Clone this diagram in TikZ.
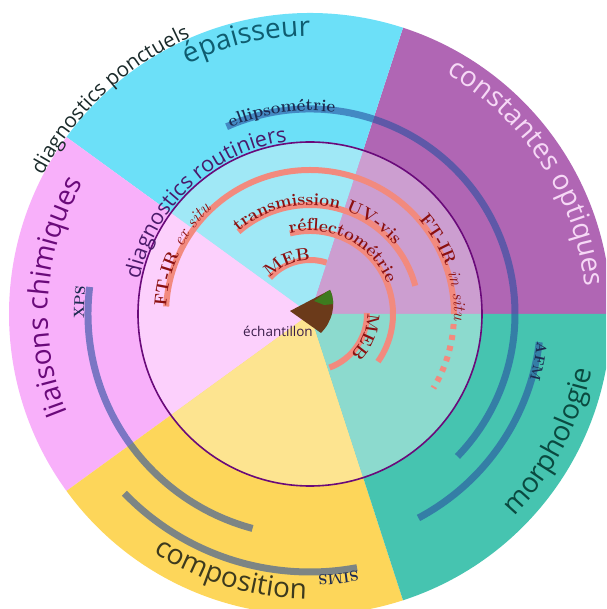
\documentclass[tikz,border=0pt]{standalone}
\usepackage{fontspec}
\usetikzlibrary{decorations.text}
\newfontfamily\osans{Open Sans}
\definecolor{cyanO}{HTML}{6CE0F8}
\definecolor{cyanI}{HTML}{A0E8F6}
\definecolor{purO}{HTML}{B066B4}
\definecolor{purI}{HTML}{CC9ED0}
\definecolor{pinkO}{HTML}{F8B0FA}
\definecolor{pinkI}{HTML}{FCD0FC}
\definecolor{yelO}{HTML}{FDD65A}
\definecolor{yelI}{HTML}{FDE490}
\definecolor{tealO}{HTML}{46C4B0}
\definecolor{tealI}{HTML}{8CDACE}
\definecolor{ringc}{HTML}{6A0A7A}
\definecolor{salmonc}{HTML}{F28A7E}
\definecolor{redtxt}{HTML}{8B1010}
\definecolor{bluearc}{HTML}{2850A0}
\definecolor{bluetxt}{HTML}{1C2A50}
\definecolor{epaic}{HTML}{0F5C70}
\definecolor{constc}{HTML}{F6D8F6}
\definecolor{morphc}{HTML}{0A4A40}
\definecolor{compc}{HTML}{3D3A1E}
\definecolor{liaic}{HTML}{6A0A7A}
\definecolor{ponctc}{HTML}{1A2A2A}
\definecolor{routc}{HTML}{4A1A6A}
\definecolor{samplec}{HTML}{6B3A1A}
\definecolor{greenc}{HTML}{3D7A1E}
\definecolor{echc}{HTML}{3A1D4A}
\newcommand\mysector[4]{\fill[#4] (0,0) -- (#1:#3) arc[start angle=#1,end angle=#2,radius=#3] -- cycle;}
\newcommand\outf[1]{\osans\fontsize{28}{30}\selectfont\color{#1}}
\newcommand\diagf[1]{\osans\fontsize{20.5}{22}\selectfont\color{#1}}
\newcommand\routf[1]{\osans\fontsize{21.5}{23}\selectfont\color{#1}}
\newcommand\redf{\bfseries\fontsize{17.5}{19}\selectfont\color{redtxt}}
\newcommand\redi{\mdseries\itshape\fontsize{17.5}{19}\selectfont\color{redtxt}}
\newcommand\bluef{\bfseries\fontsize{17}{19}\selectfont\color{bluetxt}}
\newcommand\bluefs{\bfseries\fontsize{14.5}{16}\selectfont\color{bluetxt}}
\tikzset{
  centerlbl/.style={decorate,decoration={text along path,text align=center,text={#1}}},
  startlbl/.style={decorate,decoration={text along path,text align=left,text={#1}}},
  endlbl/.style={decorate,decoration={text along path,text align=right,text={#1}}},
  redband/.style={draw=salmonc,line width=6pt},
  blueband/.style={draw=bluearc,draw opacity=0.6,line width=7pt},
}
\begin{document}
\begin{tikzpicture}[x=1pt,y=1pt]
\useasboundingbox (-310,-295) rectangle (296,314);
\clip (-310,-295) rectangle (296,314);
% outer sectors
\mysector{0}{72}{301}{purO}
\mysector{72}{144}{301}{cyanO}
\mysector{144}{216}{301}{pinkO}
\mysector{216}{288}{301}{yelO}
\mysector{288}{360}{301}{tealO}
% inner sectors
\mysector{0}{72}{172}{purI}
\mysector{72}{144}{172}{cyanI}
\mysector{144}{216}{172}{pinkI}
\mysector{216}{288}{172}{yelI}
\mysector{288}{360}{172}{tealI}
\draw[ringc,line width=1.6pt] (0,0) circle[radius=172];
% blue arcs
\draw[blueband] (114:205) arc[start angle=114,end angle=-44,radius=205];
\path[startlbl={|\bluef|ellipsométrie}] (113:203) arc[start angle=113,end angle=40,radius=203];
\draw[blueband] (-7:231) arc[start angle=-7,end angle=-62,radius=231];
\path[startlbl={|\bluefs|AFM}] (-7:229) arc[start angle=-7,end angle=-40,radius=229];
\draw[blueband] (173:222) arc[start angle=173,end angle=255,radius=222];
\path[endlbl={|\bluefs|XPS}] (200:226) arc[start angle=200,end angle=173,radius=226];
\draw[blueband] (-79.5:258) arc[start angle=-79.5,end angle=-136,radius=258];
\path[startlbl={|\bluefs|SIMS}] (-79.5:261) arc[start angle=-79.5,end angle=-115,radius=261];
% red arcs
\draw[redband] (177:144) arc[start angle=177,end angle=0,radius=144];
\draw[redband,dash pattern=on 5pt off 6pt] (-4:144) arc[start angle=-4,end angle=-31,radius=144];
\path[startlbl={|\redf|FT-IR |\redi|ex situ}] (177:144) arc[start angle=177,end angle=90,radius=144];
\path[startlbl={|\redf|FT-IR |\redi|in situ}] (41:144) arc[start angle=41,end angle=-30,radius=144];
\draw[redband] (131:109) arc[start angle=131,end angle=15,radius=109];
\path[startlbl={|\redf|transmission UV-vis}] (131:109) arc[start angle=131,end angle=0,radius=109];
\draw[redband] (104:83) arc[start angle=104,end angle=-35,radius=83];
\path[startlbl={|\redf|réflectométrie}] (104:83) arc[start angle=104,end angle=-40,radius=83];
\draw[redband] (138:54) arc[start angle=138,end angle=72,radius=54];
\path[startlbl={|\redf|MEB}] (138:54) arc[start angle=138,end angle=50,radius=54];
\draw[redband] (1:57) arc[start angle=1,end angle=-70,radius=57];
\path[startlbl={|\redf|MEB}] (1:57) arc[start angle=1,end angle=-80,radius=57];
% outer labels
\path[centerlbl={|\outf{epaic}|épaisseur}] (143:278) arc[start angle=143,end angle=63,radius=278];
\path[centerlbl={|\outf{constc}|constantes optiques}] (83:276) arc[start angle=83,end angle=-17,radius=276];
\path[centerlbl={|\outf{liaic}|liaisons chimiques}] (226:262) arc[start angle=226,end angle=126,radius=262];
\path[centerlbl={|\outf{morphc}|morphologie}] (-73:287) arc[start angle=-73,end angle=17,radius=287];
\path[centerlbl={|\outf{compc}|composition}] (-152:285) arc[start angle=-152,end angle=-62,radius=285];
\path[centerlbl={|\diagf{ponctc}|diagnostics ponctuels}] (170:301) arc[start angle=170,end angle=96,radius=301];
\path[centerlbl={|\routf{routc}|diagnostics routiniers}] (190:174) arc[start angle=190,end angle=76,radius=174];
% sample
\begin{scope}
\clip (-20,3) -- (20,24) .. controls (27,10) and (22,-8) .. (11,-19) -- cycle;
\fill[samplec] (-25,-25) rectangle (30,30);
\fill[greenc] (4,13) -- (22,26) -- (24,10) -- (14,9) -- cycle;
\end{scope}
\node[font=\osans\fontsize{13.5}{15}\selectfont,text=echc] (ech) at (-32,-17) {échantillon};
\end{tikzpicture}
\end{document}
